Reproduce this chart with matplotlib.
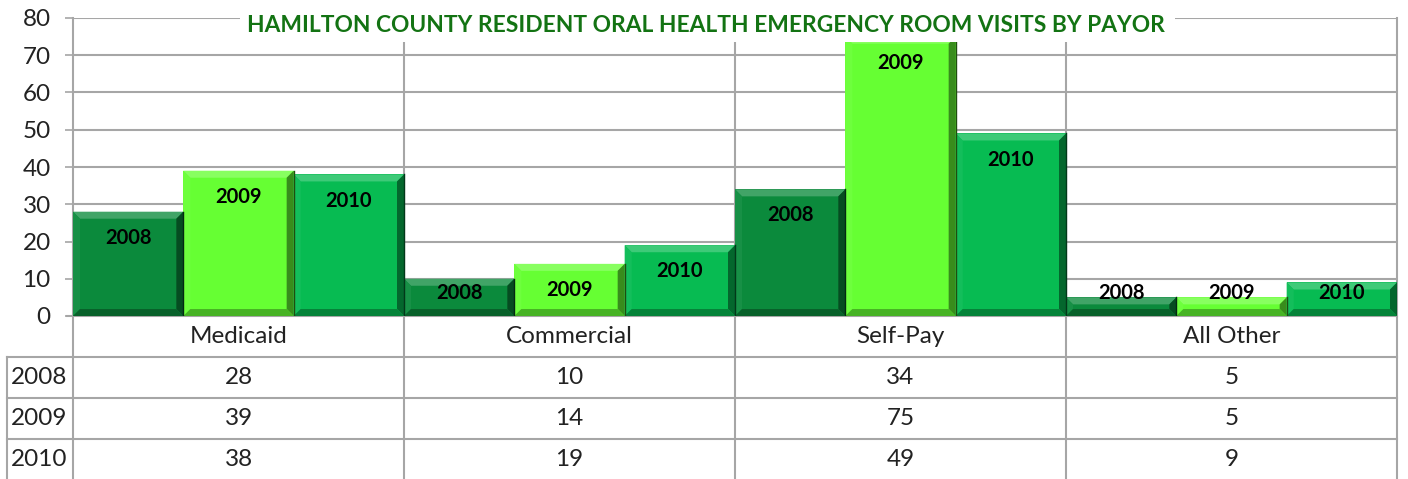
import matplotlib
matplotlib.use("Agg")
import matplotlib.colors as mcolors
import matplotlib.pyplot as plt
import matplotlib.transforms as mtransforms
from matplotlib.patches import Polygon, Rectangle
import numpy as np

categories = ["Medicaid", "Commercial", "Self-Pay", "All Other"]
years = ["2008", "2009", "2010"]
visits_2008 = [28, 10, 34, 5]
visits_2009 = [39, 14, 75, 5]
visits_2010 = [38, 19, 49, 9]
series = [visits_2008, visits_2009, visits_2010]
bar_colors = ["#0b8a3c", "#66ff33", "#07bb52"]
title = "HAMILTON COUNTY RESIDENT ORAL HEALTH EMERGENCY ROOM VISITS BY PAYOR"

GRID = "#a6a6a6"
FONT = "Lato"
plt.rcParams["font.family"] = [FONT, "DejaVu Sans"]

W, H, DPI = 1408, 479, 100
fig = plt.figure(figsize=(W / DPI, H / DPI), dpi=DPI, facecolor="white")
# plot area in pixels: x 73..1397, y 18..316
ax = fig.add_axes([73 / W, (H - 316) / H, (1397 - 73) / W, (316 - 18) / H])
ax.set_xlim(0, len(categories))
ax.set_ylim(0, 80)
for s in ax.spines.values():
    s.set_visible(False)
ax.set_xticks([])
ax.set_yticks(np.arange(0, 81, 10))
ax.tick_params(axis="y", length=6, width=1.2, color=GRID, pad=10, labelsize=17.5, labelcolor="#222222")
ax.set_axisbelow(True)

# horizontal grid
for yv in np.arange(10, 81, 10):
    ax.axhline(yv, color=GRID, lw=1.5, zorder=0)

px_x = (1397 - 73) / len(categories)   # pixels per category
px_y = (316 - 18) / 80                 # pixels per unit
bev_x = 7 / px_x
bev_y = 7 / px_y

def shade(c, f):
    r = np.array(mcolors.to_rgb(c))
    if f >= 0:
        return tuple(r + (1 - r) * f)
    return tuple(r * (1 + f))

n = len(years)
w = 1 / n
x0 = np.arange(len(categories))
for j, (vals, col) in enumerate(zip(series, bar_colors)):
    bars = ax.bar(x0 + (j + 0.5) * w, vals, width=w, color=col, edgecolor="none", zorder=2)
    for b, v in zip(bars, vals):
        xl, xr = b.get_x(), b.get_x() + b.get_width()
        yt = b.get_height()
        by = min(bev_y, yt / 2)
        bx = bev_x
        xi_l, xi_r = xl + bx, xr - bx
        yi_b, yi_t = by, yt - by
        polys = [
            ([(xl, yt), (xr, yt), (xi_r, yi_t), (xi_l, yi_t)], shade(col, 0.22)),
            ([(xl, 0), (xl, yt), (xi_l, yi_t), (xi_l, yi_b)], shade(col, 0.05)),
            ([(xr, 0), (xr, yt), (xi_r, yi_t), (xi_r, yi_b)], shade(col, -0.45)),
            ([(xl, 0), (xr, 0), (xi_r, yi_b), (xi_l, yi_b)], shade(col, -0.3)),
        ]
        for pts, c in polys:
            ax.add_patch(Polygon(pts, closed=True, facecolor=c, edgecolor="none", zorder=3))
        ax.plot([xr, xr], [0, yt], color=shade(col, -0.7), lw=1.0, zorder=3.5)
        ly = max(v - 7.0, 6.2)
        ax.text(b.get_x() + b.get_width() / 2, ly, years[j], ha="center", va="center",
                fontsize=14.5, fontweight="bold", color="black", zorder=5)

# title box covering the top of the plot
tb = Rectangle(((240 - 73) / px_x, (316 - 42) / px_y), (1175 - 240) / px_x, 10,
               facecolor="white", edgecolor="none", zorder=6, clip_on=False)
ax.add_patch(tb)
ax.text((706 - 73) / px_x, (316 - 25.5) / px_y, title, ha="center", va="center",
        fontsize=16.4, fontweight="bold", color="#137313", zorder=7, clip_on=False)

# data table below the axis
trans = mtransforms.blended_transform_factory(ax.transData, ax.transAxes)
rh = 41 / (316 - 18)
lx = -(73 - 7) / px_x
line_kw = dict(color=GRID, lw=1.5, transform=trans, clip_on=False, zorder=1)
ax.plot([-6 / px_x, 4], [0, 0], color=GRID, lw=1.5, clip_on=False, zorder=1)
for k in range(1, 4):
    ax.plot([lx, 4], [-k * rh, -k * rh], **line_kw)
for xv in range(0, 5):
    ax.plot([xv, xv], [1 if xv in (0, 4) else (316 - 42) / (316 - 18), -4 * rh], **line_kw)
ax.plot([lx, lx], [-rh, -4 * rh], **line_kw)

for i, cat in enumerate(categories):
    ax.text(i + 0.5, -0.5 * rh, cat, ha="center", va="center", fontsize=17.5,
            color="#222222", transform=trans)
for k, (yr, vals) in enumerate(zip(years, series)):
    yc = -(k + 1.5) * rh
    ax.text(lx + 4 / px_x, yc, yr, ha="left", va="center", fontsize=17.5,
            color="#222222", transform=trans)
    for i, v in enumerate(vals):
        ax.text(i + 0.5, yc, str(v), ha="center", va="center", fontsize=17.5,
                color="#222222", transform=trans)

fig.savefig("out.png", dpi=DPI, facecolor="white")
